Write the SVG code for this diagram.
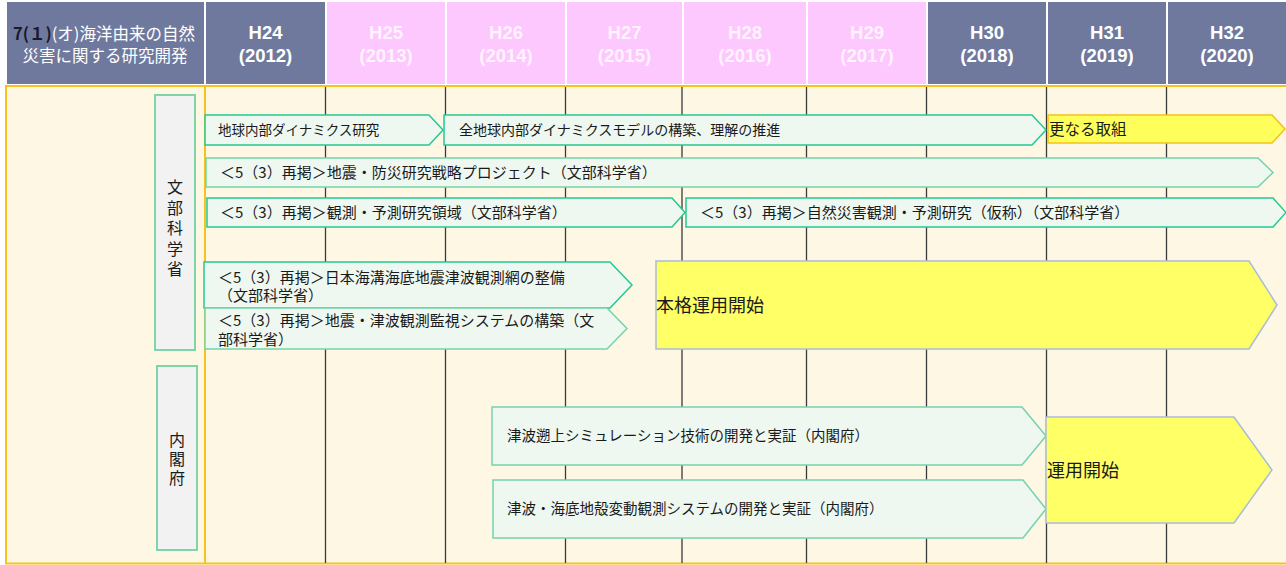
<svg xmlns="http://www.w3.org/2000/svg" width="1286" height="565" viewBox="0 0 1286 565">
<style>
.hd{fill:#6f799e}
.pk{fill:#fdc8fd}
.yr{font-family:"Liberation Sans",Arial,sans-serif;font-weight:bold;font-size:18.5px;fill:#ffffff;text-anchor:middle}
.yp{font-family:"Liberation Sans",Arial,sans-serif;font-weight:bold;font-size:18.5px;fill:#fff2ff;text-anchor:middle}
.jp{font-family:"Noto Sans CJK JP","Noto Sans",sans-serif;fill:#1a1a1a}
.vt{font-family:"Noto Sans CJK JP","Noto Sans",sans-serif;fill:#1a1a1a;font-size:16px;writing-mode:vertical-rl;text-orientation:upright}
.arr{fill:#eef8f1;stroke:#22c994;stroke-width:1.5}
.arl{fill:#eef8f1;stroke:#74d3ab;stroke-width:1.5}
.yel{fill:#ffff66;stroke:#a9bdd8;stroke-width:1.5}
.yel2{fill:#ffff5c;stroke:#f2c21a;stroke-width:1.5}
.lab{fill:#f2f2f2;stroke:#80d4aa;stroke-width:2}
.grid{stroke:#3a3a3a;stroke-width:1.3}
</style>
<rect x="0" y="0" width="1286" height="565" fill="#ffffff"/>
<g id="header">
<rect class="hd" x="7" y="2" width="197" height="82"/>
<rect class="hd" x="206" y="2" width="119" height="82"/>
<rect class="pk" x="327" y="2" width="118" height="82"/>
<rect class="pk" x="447" y="2" width="118" height="82"/>
<rect class="pk" x="567" y="2" width="115" height="82"/>
<rect class="pk" x="684" y="2" width="122" height="82"/>
<rect class="pk" x="808" y="2" width="118" height="82"/>
<rect class="hd" x="928" y="2" width="118" height="82"/>
<rect class="hd" x="1048" y="2" width="118" height="82"/>
<rect class="hd" x="1168" y="2" width="118" height="82"/>
<text class="jp" x="104" y="40" font-size="16.5" text-anchor="middle"><tspan font-weight="bold" fill="#1a1a2a">7(１)</tspan><tspan fill="#ffffff">(オ)海洋由来の自然</tspan></text>
<text class="jp" x="105" y="62" font-size="16.5" text-anchor="middle" style="fill:#ffffff">災害に関する研究開発</text>
<text class="yr" x="265.5" y="39">H24</text><text class="yr" x="265.5" y="62">(2012)</text>
<text class="yp" x="386" y="39">H25</text><text class="yp" x="386" y="62">(2013)</text>
<text class="yp" x="506" y="39">H26</text><text class="yp" x="506" y="62">(2014)</text>
<text class="yp" x="624.5" y="39">H27</text><text class="yp" x="624.5" y="62">(2015)</text>
<text class="yp" x="745" y="39">H28</text><text class="yp" x="745" y="62">(2016)</text>
<text class="yp" x="867" y="39">H29</text><text class="yp" x="867" y="62">(2017)</text>
<text class="yr" x="987" y="39">H30</text><text class="yr" x="987" y="62">(2018)</text>
<text class="yr" x="1107" y="39">H31</text><text class="yr" x="1107" y="62">(2019)</text>
<text class="yr" x="1227" y="39">H32</text><text class="yr" x="1227" y="62">(2020)</text>
</g>
<g id="body">
<rect x="6" y="86" width="1281" height="477.5" fill="#fdf7e4" stroke="#f7c21c" stroke-width="2"/>
<line x1="205" y1="86" x2="205" y2="563" stroke="#f7c21c" stroke-width="2"/>
</g>
<g id="grid">
<line class="grid" x1="325.5" y1="87" x2="325.5" y2="563"/>
<line class="grid" x1="445.5" y1="87" x2="445.5" y2="563"/>
<line class="grid" x1="565.5" y1="87" x2="565.5" y2="563"/>
<line class="grid" x1="682" y1="87" x2="682" y2="563"/>
<line class="grid" x1="806.5" y1="87" x2="806.5" y2="563"/>
<line class="grid" x1="926.5" y1="87" x2="926.5" y2="563"/>
<line class="grid" x1="1046.5" y1="87" x2="1046.5" y2="563"/>
<line class="grid" x1="1166.5" y1="87" x2="1166.5" y2="563"/>
</g>
<g id="label-mext">
<rect class="lab" x="155" y="95" width="40" height="255"/>
<text class="vt" x="175" y="179" letter-spacing="4.5">文部科学省</text>
</g>
<g id="label-cao">
<rect class="lab" x="157" y="366" width="40" height="184"/>
<text class="vt" x="177" y="432" letter-spacing="3">内閣府</text>
</g>
<g id="connectors"></g>
<g id="bar-dynamics">
<polygon class="arr" points="205,115 429,115 443,130 429,145 205,145"/>
<text class="jp" x="218" y="135" font-size="13.5">地球内部ダイナミクス研究</text>
</g>
<g id="bar-global-model">
<polygon class="arr" points="444,115 1032,115 1046,130 1032,145 444,145"/>
<text class="jp" x="459" y="135" font-size="14">全地球内部ダイナミクスモデルの構築、理解の推進</text>
</g>
<g id="bar-further">
<polygon class="yel2" points="1048,115 1272,115 1285,129 1272,143 1048,143"/>
<text class="jp" x="1049" y="134.5" font-size="15.5">更なる取組</text>
</g>
<g id="bar-quake-project">
<polygon class="arl" points="206,158 1258,158 1273,172.5 1258,187 206,187"/>
<text class="jp" x="220" y="178" font-size="15">＜5（3）再掲＞地震・防災研究戦略プロジェクト（文部科学省）</text>
</g>
<g id="bar-observation-field">
<polygon class="arr" points="207,198 672,198 685,212.5 672,227 207,227"/>
<text class="jp" x="220" y="218" font-size="15">＜5（3）再掲＞観測・予測研究領域（文部科学省）</text>
</g>
<g id="bar-natural-disaster">
<polygon class="arr" points="686,198 1273,198 1286,212.5 1273,227 686,227"/>
<text class="jp" x="700" y="218" font-size="15">＜5（3）再掲＞自然災害観測・予測研究（仮称）（文部科学省）</text>
</g>
<g id="bar-japan-trench">
<polygon class="arr" points="204,262 610,262 632,285 610,308 204,308"/>
<text class="jp" x="218" y="282.5" font-size="15">＜5（3）再掲＞日本海溝海底地震津波観測網の整備</text>
<text class="jp" x="218" y="301" font-size="15">（文部科学省）</text>
</g>
<g id="bar-monitoring">
<polygon class="arl" points="205,308 607,308 627,328.5 607,349 205,349"/>
<text class="jp" x="218" y="325.5" font-size="15">＜5（3）再掲＞地震・津波観測監視システムの構築（文</text>
<text class="jp" x="218" y="344.5" font-size="15">部科学省）</text>
</g>
<g id="bar-full-operation">
<polygon class="yel" points="656,261 1249,261 1277,305 1249,349 656,349"/>
<text class="jp" x="656" y="312" font-size="18">本格運用開始</text>
</g>
<g id="bar-tsunami-sim">
<polygon class="arl" points="492,407 1022,407 1046,436 1022,465 492,465"/>
<text class="jp" x="507" y="441" font-size="14.5">津波遡上シミュレーション技術の開発と実証（内閣府）</text>
</g>
<g id="bar-seafloor">
<polygon class="arl" points="493,480 1023,480 1046,509 1023,538 493,538"/>
<text class="jp" x="507" y="514" font-size="14.5">津波・海底地殻変動観測システムの開発と実証（内閣府）</text>
</g>
<g id="bar-operation">
<polygon class="yel" points="1046,417 1234,417 1272,470 1234,523 1046,523"/>
<text class="jp" x="1047" y="477" font-size="18">運用開始</text>
</g>
</svg>
